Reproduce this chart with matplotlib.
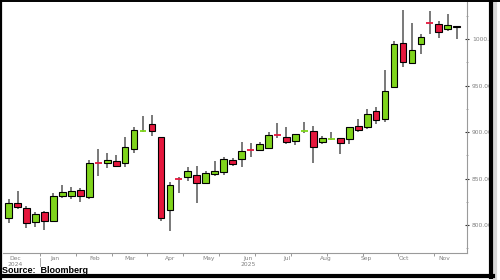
# weekly candlestick chart, Bloomberg style

import numpy as np
import pandas as pd
import matplotlib
matplotlib.use("Agg")
import matplotlib.pyplot as plt
import matplotlib.dates as mdates
from matplotlib.lines import Line2D
from matplotlib.ticker import MultipleLocator, FormatStrFormatter, FixedLocator

# weekly bars (week ending Friday)
weeks = pd.date_range("2024-11-29", periods=51, freq="7D")

opens = [807.2, 824.0, 817.9, 803.5, 813.6, 804.6, 831.2, 831.5, 837.6, 830.4,
         867.7, 866.3, 868.8, 866.3, 881.4, 901.1, 908.3, 894.3, 816.1, 849.7,
         851.9, 853.8, 844.8, 854.8, 856.7, 869.9, 870.6, 881.5, 880.6, 882.5,
         897.6, 894.9, 890.6, 900.9, 900.7, 888.9, 892.4, 893.2, 892.1, 906.4,
         905.1, 922.6, 914.0, 948.7, 995.4, 974.9, 994.6, 1017.6, 1016.1, 1010.8,
         1014.3]
highs = [828.0, 836.9, 820.4, 814.3, 815.4, 834.1, 843.0, 841.2, 840.1, 869.9,
         881.7, 877.1, 875.3, 894.9, 905.1, 917.2, 918.3, 894.6, 846.6, 851.9,
         862.7, 863.4, 858.4, 868.8, 873.4, 871.7, 889.6, 887.8, 888.9, 899.7,
         909.4, 905.1, 898.0, 911.1, 906.4, 895.7, 899.7, 893.5, 906.0, 913.7,
         924.4, 926.6, 966.7, 997.8, 1031.2, 1017.5, 1005.4, 1030.1, 1019.4, 1026.6,
         1014.5]
lows = [802.1, 817.2, 796.4, 797.5, 794.6, 804.0, 828.7, 828.0, 825.0, 828.0,
        852.7, 861.0, 862.0, 862.0, 877.7, 899.7, 895.7, 804.6, 793.9, 834.1,
        847.6, 824.0, 844.1, 853.0, 853.8, 863.8, 862.0, 873.4, 879.9, 882.0,
        893.2, 886.8, 886.0, 898.6, 867.0, 886.8, 891.4, 876.3, 887.1, 900.3,
        903.2, 908.6, 911.1, 948.5, 970.2, 974.7, 983.9, 1005.4, 1001.4, 1008.9,
        999.7]
closes = [823.3, 819.0, 802.5, 811.5, 804.6, 831.5, 835.5, 836.9, 831.5, 866.7,
          867.0, 869.9, 863.4, 883.5, 901.8, 901.6, 901.1, 807.2, 843.0, 849.4,
          858.1, 844.8, 855.6, 857.7, 870.6, 865.3, 879.9, 881.0, 886.8, 896.8,
          897.1, 889.6, 897.8, 901.4, 884.2, 893.2, 892.8, 888.5, 905.7, 902.1,
          919.0, 912.6, 944.4, 994.3, 975.6, 988.9, 1002.5, 1017.2, 1007.2, 1015.1,
          1012.6]

month_labels = ["Dec\n2024", "Jan", "Feb", "Mar", "Apr", "May", "Jun\n2025",
                "Jul", "Aug", "Sep", "Oct", "Nov"]
month_starts = pd.date_range("2024-12-01", periods=12, freq="MS")

green = "#7fd41c"
red = "#e5173d"
wick_col = "#555555"

fig = plt.figure(figsize=(5.0, 2.8), dpi=100)
ax = fig.add_axes([3 / 500, 27 / 280, 464 / 500, 251 / 280])

x = mdates.date2num(weeks)
o = np.array(opens)
h = np.array(highs)
l = np.array(lows)
c = np.array(closes)
up = c >= o
doji = np.abs(c - o) < 1.0
w = 5.3

ax.vlines(x, l, h, color=wick_col, lw=1.1, zorder=1)

body = ~doji
ax.bar(x[body & up], (c - o)[body & up], bottom=o[body & up], width=w,
       color=green, edgecolor="black", lw=0.8, zorder=2)
ax.bar(x[body & ~up], (c - o)[body & ~up], bottom=o[body & ~up], width=w,
       color=red, edgecolor="black", lw=0.8, zorder=2)

# doji drawn as a coloured dash
for xi, oi, ci, u in zip(x[doji], o[doji], c[doji], up[doji]):
    ax.hlines((oi + ci) / 2, xi - w / 2, xi + w / 2, color=green if u else red,
              lw=1.3, zorder=3)

ax.set_xlim(mdates.date2num(pd.Timestamp("2024-11-24 16:00")),
            mdates.date2num(pd.Timestamp("2025-11-22")))
ax.set_ylim(770, 1040)

# axes styling
for s in ["top", "left"]:
    ax.spines[s].set_visible(False)
for s in ["right", "bottom"]:
    ax.spines[s].set_color("#9a9a9a")
    ax.spines[s].set_linewidth(0.8)

ax.yaxis.tick_right()
ax.yaxis.set_major_locator(MultipleLocator(50))
ax.yaxis.set_minor_locator(MultipleLocator(25))
ax.yaxis.set_major_formatter(FormatStrFormatter("%.2f"))
ax.tick_params(axis="y", which="major", direction="inout", length=3, width=0.8,
               color="#333333", labelsize=4.3, labelcolor="#808080", pad=2)
ax.tick_params(axis="y", which="minor", direction="inout", length=2, width=0.6,
               color="#999999")

label_pos = mdates.date2num(month_starts + pd.Timedelta(days=3))
ax.xaxis.set_major_locator(FixedLocator(label_pos))
ax.set_xticklabels(month_labels)
ax.xaxis.set_minor_locator(FixedLocator(x[3::4] + 3.5))
ax.tick_params(axis="x", which="major", length=0, labelsize=4.3,
               labelcolor="#808080", pad=2)
ax.tick_params(axis="x", which="minor", direction="out", length=2.5, width=0.6,
               color="#888888")
for t in ax.get_xticklabels():
    t.set_linespacing(1.3)

# year separator below the axis
ax.plot([x[3] + 3.5] * 2, [-0.02, -0.05], color="#999999", lw=0.6,
        transform=ax.get_xaxis_transform(), clip_on=False)

# outer frame with a light shadow on the right
fig.add_artist(Line2D([495 / 500] * 2, [0, 1 - 3 / 280], color="#d8d8d8", lw=3,
                      transform=fig.transFigure))
fig.add_artist(Line2D([1 / 500, 1 / 500], [0, 1], color="black", lw=1.6,
                      transform=fig.transFigure))
fig.add_artist(Line2D([0, 1], [1 - 0.8 / 280] * 2, color="black", lw=1.4,
                      transform=fig.transFigure))
fig.add_artist(Line2D([491 / 500] * 2, [3 / 280, 1], color="black", lw=3,
                      transform=fig.transFigure))
fig.add_artist(Line2D([0, 493 / 500], [4 / 280] * 2, color="black", lw=3,
                      transform=fig.transFigure))

fig.text(2 / 500, 1 - 270.5 / 280, "Source:  Bloomberg", fontsize=6.5,
         family="Liberation Sans", fontweight="bold", va="center", ha="left",
         color="black")

fig.savefig("out.png", dpi=100)
